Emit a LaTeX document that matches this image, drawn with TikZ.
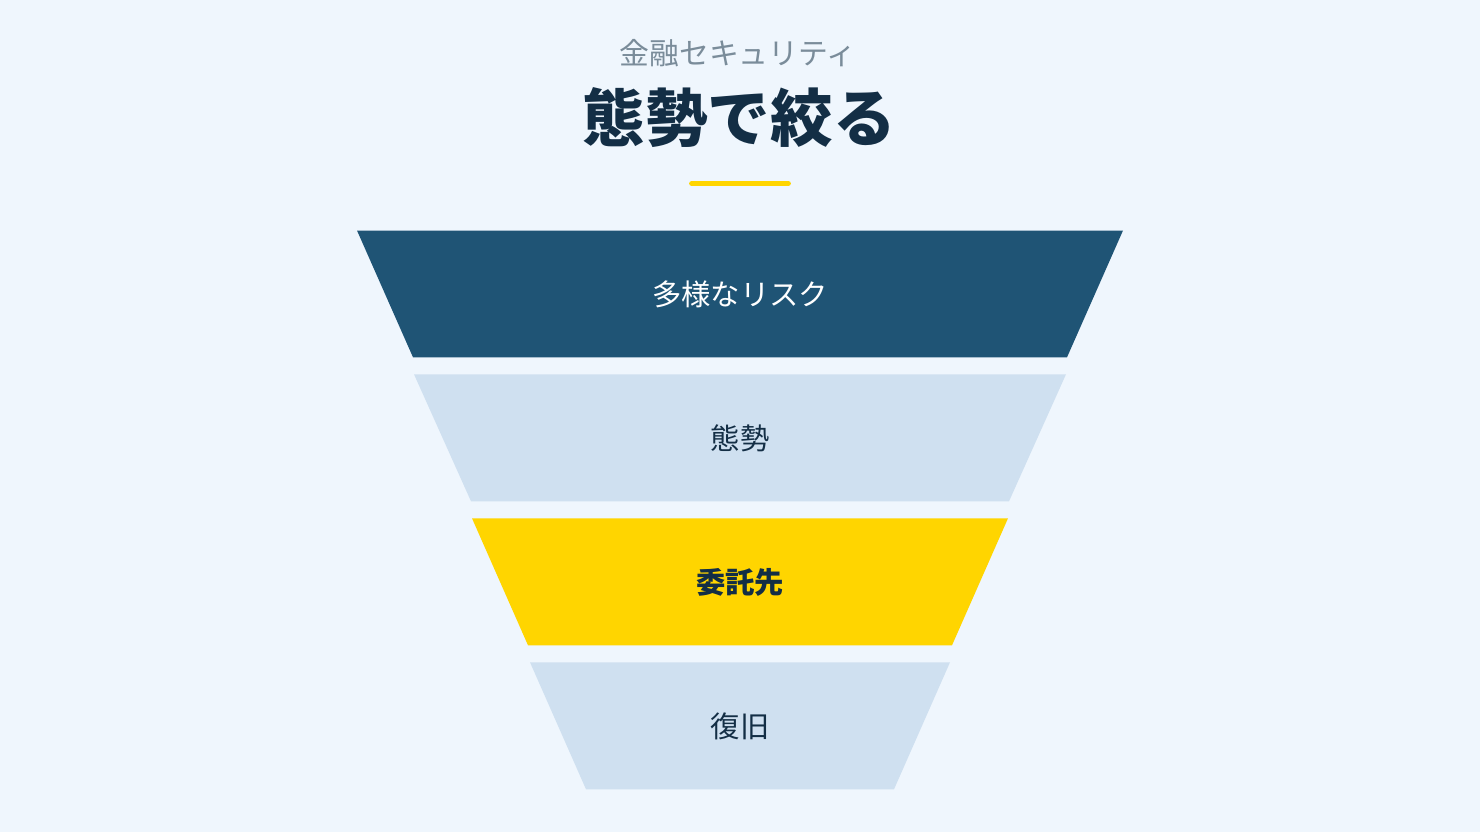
\documentclass[tikz,border=0pt]{standalone}
\usepackage{fontspec}
\setmainfont{Noto Sans CJK JP}
\newfontfamily\jp{Noto Sans CJK JP}
\definecolor{bgc}{HTML}{EFF6FD}
\definecolor{darkblue}{HTML}{1F5475}
\definecolor{lightblue}{HTML}{CFE0F0}
\definecolor{gold}{HTML}{FFD500}
\definecolor{navy}{HTML}{132E45}
\definecolor{greytxt}{HTML}{7A8C9A}
\begin{document}
\begin{tikzpicture}[x=0.75pt,y=-0.75pt,
  layer/.style={inner sep=0pt, font=\jp\fontsize{22}{26}\selectfont},
  ttl/.style={inner sep=0pt, text=navy, font=\jp\bfseries\fontsize{47}{54}\selectfont},
  sub/.style={inner sep=0pt, text=greytxt, font=\jp\fontsize{22.4}{26}\selectfont}]
\fill[bgc] (0,0) rectangle (1480,832);
\useasboundingbox (0,0) rectangle (1480,832);
% title
\node[sub] (subtitle) at (738,53) {金融セキュリティ};
\node[ttl] (title) at (739,118) {態勢で絞る};
\draw[gold, line width=4.4pt, line cap=round] (692,183.5) -- (788,183.5);
% funnel layers
\fill[darkblue] (357,230.5) -- (1123,230.5) -- (1067,357.3) -- (413,357.3) -- cycle;
\fill[lightblue] (414,374.3) -- (1066,374.3) -- (1009,501.3) -- (471,501.3) -- cycle;
\fill[gold] (472,518.3) -- (1008,518.3) -- (952,645.3) -- (528,645.3) -- cycle;
\fill[lightblue] (530,662.3) -- (950,662.3) -- (894,789.3) -- (586,789.3) -- cycle;
\node[layer, text=white] (l1) at (740,294) {多様なリスク};
\node[layer, text=navy] (l2) at (740,438) {態勢};
\node[layer, text=navy, font=\jp\bfseries\fontsize{22}{26}\selectfont] (l3) at (740,582) {委託先};
\node[layer, text=navy] (l4) at (740,726) {復旧};
\end{tikzpicture}
\end{document}
